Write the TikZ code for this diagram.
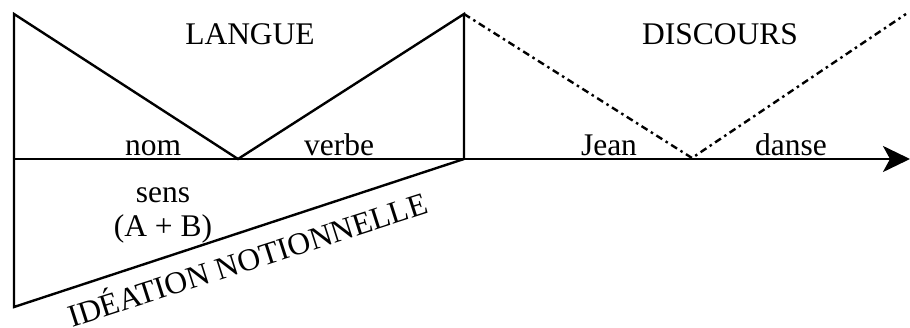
\documentclass[tikz,border=0pt]{standalone}
\usepackage{fontspec}
\setmainfont{Liberation Serif}
\usetikzlibrary{arrows.meta}
\begin{document}
\begin{tikzpicture}[x=1pt,y=-1pt,
  lbl/.style={font=\fontsize{31.5}{38}\selectfont, anchor=base, inner sep=0pt},
  ln/.style={line width=2.4pt, line join=miter},
  dotln/.style={line width=2.4pt, dash pattern=on 7pt off 4pt on 2.5pt off 4pt}]
\useasboundingbox (0,0) rectangle (910,328);
% points
\coordinate (TL) at (14,14);
\coordinate (BL) at (14,307);
\coordinate (AL) at (14,159);
\coordinate (V1) at (238,159);
\coordinate (TM) at (464,14);
\coordinate (AM) at (464,159);
\coordinate (V2) at (692,158);
\coordinate (TR) at (906,14);
\coordinate (AE) at (910,159);
% lines
\draw[ln] (AL) -- (TL) -- (V1) -- (TM) -- (AM);
\draw[ln] (AL) -- (BL) -- (AM);
\draw[ln, -{Stealth[length=27pt,width=26pt,inset=7pt]}] (AL) -- (AE);
\draw[dotln] (TM) -- (V2) -- (TR);
% labels
\node[lbl] (langue) at (250,45) {LANGUE};
\node[lbl] (discours) at (720,45) {DISCOURS};
\node[lbl] (nom) at (153,156) {nom};
\node[lbl] (verbe) at (339,156) {verbe};
\node[lbl] (jean) at (609,156) {Jean};
\node[lbl] (danse) at (791,156) {danse};
\node[lbl] (sens) at (163,203) {sens};
\node[lbl] (ab) at (163,237) {(A + B)};
\node[lbl, rotate=17.8] (idea) at (251,270) {IDÉATION NOTIONNELLE};
\end{tikzpicture}
\end{document}
